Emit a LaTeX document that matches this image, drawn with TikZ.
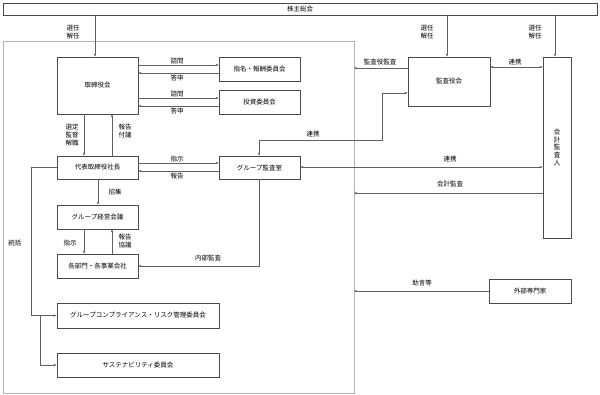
\documentclass[tikz,border=0pt]{standalone}
\usepackage{fontspec}
\setmainfont{Noto Sans CJK JP}
\usetikzlibrary{arrows.meta}
\definecolor{boxline}{HTML}{4A4A4A}
\definecolor{conn}{HTML}{606060}
\definecolor{frame}{HTML}{B4B4B4}
\begin{document}
\begin{tikzpicture}[x=1pt,y=-1pt,
  every node/.style={font=\fontsize{6.5}{7.6}\selectfont, text=black},
  box/.style={draw=boxline, line width=0.75pt, inner sep=0pt, fill=white},
  lbl/.style={inner sep=0pt, align=center},
  arr/.style={draw=conn, line width=0.6pt, -{Stealth[length=3pt,width=2.4pt]}},
  darr/.style={draw=conn, line width=0.6pt, {Stealth[length=3pt,width=2.4pt]}-{Stealth[length=3pt,width=2.4pt]}},
  ln/.style={draw=conn, line width=0.6pt}]
\useasboundingbox (0,0) rectangle (600,395);
\draw[frame, line width=0.6pt] (3,41) rectangle (354,393);
% boxes
\node[box, minimum width=594pt, minimum height=12pt] (soukai) at (300,9) {株主総会};
\node[box, minimum width=81pt, minimum height=57pt] (tori) at (97.5,85.5) {取締役会};
\node[box, minimum width=81pt, minimum height=24pt] (shimei) at (259.5,69) {指名・報酬委員会};
\node[box, minimum width=81pt, minimum height=24pt] (toushi) at (259.5,102) {投資委員会};
\node[box, minimum width=82pt, minimum height=49pt] (kansa) at (449,81.5) {監査役会};
\node[box, minimum width=28pt, minimum height=181pt, align=center] (kaikei) at (557,147.5) {会\\計\\監\\査\\人};
\node[box, minimum width=81pt, minimum height=23pt] (shachou) at (97.5,167.5) {代表取締役社長};
\node[box, minimum width=81pt, minimum height=23pt] (audit) at (259.5,167.5) {グループ監査室};
\node[box, minimum width=81pt, minimum height=24pt] (keiei) at (97.5,217) {グループ経営会議};
\node[box, minimum width=81pt, minimum height=24pt] (bumon) at (97.5,266) {各部門・各事業会社};
\node[box, minimum width=162pt, minimum height=25pt] (comp) at (138,315.5) {グループコンプライアンス・リスク管理委員会};
\node[box, minimum width=162pt, minimum height=24pt] (sust) at (138,365) {サステナビリティ委員会};
\node[box, minimum width=82pt, minimum height=24pt] (gaibu) at (530,291) {外部専門家};
% coordinates on frame edge
\coordinate (e68) at (354,68);
\coordinate (e193) at (354,193);
\coordinate (e291) at (354,291);
\coordinate (bend1) at (382,140);
% shareholders
\draw[arr] (95,0 |- soukai.south) -- (95,0 |- tori.north);
\node[lbl] (l1) at (73,32) {選任\\解任};
\draw[arr] (447,0 |- soukai.south) -- (447,0 |- kansa.north);
\node[lbl] (l2) at (427,32) {選任\\解任};
\draw[arr] (555,0 |- soukai.south) -- (555,0 |- kaikei.north);
\node[lbl] (l3) at (535,32) {選任\\解任};
% board <-> committees
\draw[arr] (tori.east |- 0,65) -- (shimei.west |- 0,65);
\node[lbl] (l4) at (177,61) {諮問};
\draw[arr] (shimei.west |- 0,73) -- (tori.east |- 0,73);
\node[lbl] (l5) at (177,78) {答申};
\draw[arr] (tori.east |- 0,98) -- (toushi.west |- 0,98);
\node[lbl] (l6) at (177,94) {諮問};
\draw[arr] (toushi.west |- 0,106) -- (tori.east |- 0,106);
\node[lbl] (l7) at (177,111) {答申};
% auditors
\draw[arr] (kansa.west |- e68) -- (e68);
\node[lbl] (l8) at (380,62) {監査役監査};
\draw[darr] (kansa.east |- 0,67) -- (kaikei.west |- 0,67);
\node[lbl] (l9) at (515,62) {連携};
\draw[darr] (259,0 |- audit.north) |- (bend1) |- (kansa.west |- 0,93);
\node[lbl] (l10) at (313,134.5) {連携};
% board <-> president
\draw[arr] (84,0 |- tori.south) -- (84,0 |- shachou.north);
\node[lbl] (l11) at (72,135) {選定\\監督\\解職};
\draw[arr] (112,0 |- shachou.north) -- (112,0 |- tori.south);
\node[lbl] (l12) at (125,131) {報告\\付議};
% president <-> audit office
\draw[arr] (shachou.east |- 0,163) -- (audit.west |- 0,163);
\node[lbl] (l13) at (177,159) {指示};
\draw[arr] (audit.west |- 0,171) -- (shachou.east |- 0,171);
\node[lbl] (l14) at (177,176) {報告};
\draw[darr] (audit.east |- 0,167) -- (kaikei.west |- 0,167);
\node[lbl] (l15) at (450,159) {連携};
\draw[arr] (kaikei.west |- e193) -- (e193);
\node[lbl] (l16) at (450,184) {会計監査};
% president -> management meeting
\draw[arr] (98,0 |- shachou.south) -- (98,0 |- keiei.north);
\node[lbl] (l17) at (115,192) {招集};
\draw[arr] (84,0 |- keiei.south) -- (84,0 |- bumon.north);
\node[lbl] (l18) at (70,243) {指示};
\draw[arr] (112,0 |- bumon.north) -- (112,0 |- keiei.south);
\node[lbl] (l19) at (125,241) {報告\\協議};
\draw[arr] (259,0 |- audit.south) |- (bumon.east |- 0,266);
\node[lbl] (l20) at (208,258) {内部監査};
% oversight
\draw[arr] (shachou.west) -| (31,0 |- comp.west) -- (comp.west);
\draw[arr] (40,0 |- comp.west) |- (sust.west);
\node[lbl] (l21) at (15,243) {統括};
% external experts
\draw[arr] (gaibu.west) -- (e291);
\node[lbl] (l22) at (422,283) {助言等};
\end{tikzpicture}
\end{document}
